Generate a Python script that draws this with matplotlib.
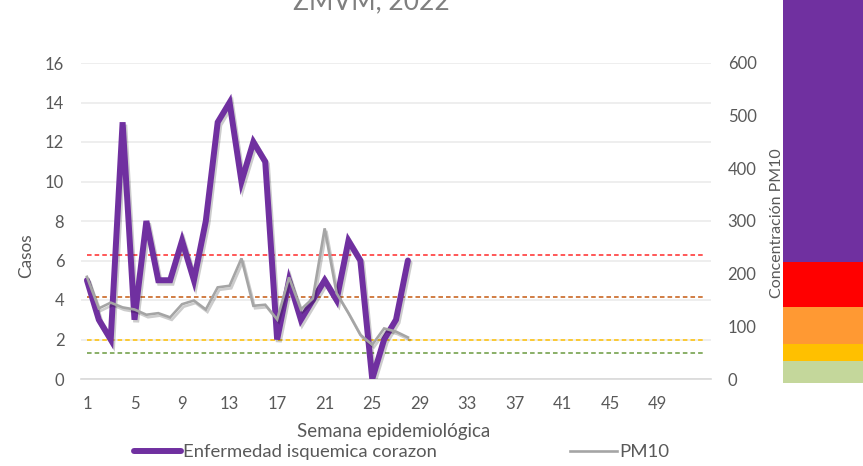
import matplotlib
matplotlib.use("Agg")
import matplotlib.pyplot as plt
import matplotlib.patheffects as pe
from matplotlib.lines import Line2D

plt.rcParams['font.family'] = ['Lato', 'DejaVu Sans']

# Weekly series, 2022
weeks = list(range(1, 29))
casos = [5, 3, 2, 13, 3, 8, 5, 5, 7, 5, 8, 13, 14, 10, 12, 11, 2, 5, 3, 4,
         5, 4, 7, 6, 0, 2, 3, 6]
pm10 = [194, 134, 145, 136, 132, 122, 125, 117, 142, 149, 132, 174, 177, 229,
        139, 141, 113, 193, 132, 153, 286, 163, 125, 84, 65, 96, 90, 79]

# Full year of weeks for the reference lines
all_weeks = list(range(1, 54))
umbrales = [235, 155, 75, 50]
umbral_colors = ['#FF2A2A', '#C55A11', '#FFC000', '#6A9A3E']

xticks = list(range(1, 50, 4))
left_ticks = list(range(0, 17, 2))
right_ticks = list(range(0, 601, 100))

# Air-quality colour scale (stacked segments, bottom to top)
escala_vals = [22, 17, 37, 44, 290]
escala_colors = ['#C4D79B', '#FFC000', '#FF9933', '#FF0000', '#7030A0']

W, H = 863, 466
fig = plt.figure(figsize=(W / 100, H / 100), dpi=100)

def fx(px):
    return px / W

def fy(py):
    return 1 - py / H

ax = fig.add_axes([fx(81), fy(379), fx(711) - fx(81), fy(63) - fy(379)])
ax2 = ax.twinx()

tick_color = '#595959'
ax.set_xlim(0.5, 53.5)
ax.set_ylim(0, 16)
ax2.set_ylim(0, 600)

# Reference thresholds (right scale), drawn beneath the case line
for val, col in zip(umbrales, umbral_colors):
    ax.plot(all_weeks, [val] * len(all_weeks), color=col, lw=1.1,
            dashes=(3.0, 2.0), transform=ax2.transData, zorder=1.5)

shadow = [pe.SimpleLineShadow(offset=(1.2, -1.8), shadow_color='#000000',
                              alpha=0.2, rho=1.0), pe.Normal()]

ax.plot(weeks, casos, color='#7030A0', lw=4.3, solid_joinstyle='miter',
        solid_capstyle='round', path_effects=shadow, zorder=3)
ax2.plot(weeks, pm10, color='#A5A5A5', lw=1.9, solid_joinstyle='miter',
         path_effects=shadow, zorder=3)

ax.set_yticks(left_ticks)
ax.set_xticks(xticks)
ax2.set_yticks(right_ticks)
ax.yaxis.grid(True, color='#EDEDED', lw=1.3)
ax.set_axisbelow(True)

for a in (ax, ax2):
    for s in a.spines.values():
        s.set_visible(False)
ax.spines['bottom'].set_visible(True)
ax.spines['bottom'].set_color('#D9D9D9')
ax.spines['bottom'].set_linewidth(1.2)

ax.tick_params(axis='x', length=0, pad=12, labelsize=12, labelcolor=tick_color)
ax.tick_params(axis='y', length=0, pad=12, labelsize=12, labelcolor=tick_color)
ax2.tick_params(axis='y', length=0, pad=12, labelsize=12, labelcolor=tick_color)

fig.text(fx(394), fy(432), 'Semana epidemiológica', ha='center', va='center',
         fontsize=13.5, color=tick_color)
fig.text(fx(26), fy(256), 'Casos', ha='center', va='center', rotation=90,
         fontsize=12.4, color=tick_color)
fig.text(fx(777), fy(223), 'Concentración PM10', ha='center', va='center',
         rotation=90, fontsize=11.5, color=tick_color)

fig.text(fx(371), fy(9), 'ZMVM, 2022', ha='center', va='baseline',
         fontsize=19, color='#7F7F7F')

# Colour scale strip at the right edge
axs = fig.add_axes([fx(782.5), fy(383.3), 1 - fx(782.5), fy(-30) - fy(383.3)])
bottom = 0
for v, c in zip(escala_vals, escala_colors):
    axs.bar([0], [v], bottom=bottom, width=1.0, color=c, align='edge',
            linewidth=0)
    bottom += v
axs.set_xlim(0, 1)
axs.set_ylim(0, bottom)
axs.axis('off')

handles = [Line2D([], [], color='#7030A0', lw=4.3, solid_capstyle='round'),
           Line2D([], [], color='#A5A5A5', lw=1.9)]
fig.legend(handles, ['Enfermedad isquemica corazon', 'PM10'],
           loc='center', bbox_to_anchor=(fx(401.5), fy(452)), ncol=2,
           frameon=False, fontsize=13.3, handlelength=2.55, handletextpad=0.1,
           columnspacing=7.2, labelcolor=tick_color)

fig.savefig('out.png', dpi=100)
